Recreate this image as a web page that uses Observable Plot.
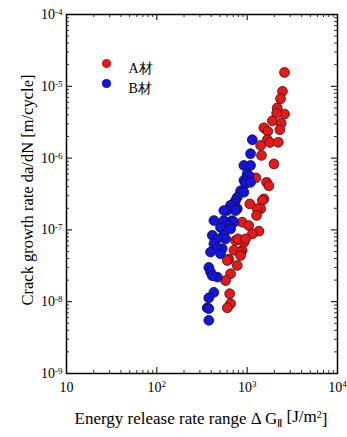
<!DOCTYPE html>
<html><head><meta charset="utf-8">
<script src="https://cdn.jsdelivr.net/npm/d3@7"></script>
<script src="https://cdn.jsdelivr.net/npm/@observablehq/plot@0.6"></script>
<style>body{margin:0;background:#fff;} svg{display:block;}</style>
</head><body><div id="chart"></div>
<script>
const seriesNames = ["A材", "B材"];
const seriesColors = ["#e81818", "#1414dc"];

const aDeltaG = [2590, 2460, 2340, 2150, 2590, 2120, 1900, 2380, 1530, 1690, 2300, 1670, 1780, 2210, 1410, 1440, 1980, 1250, 1640, 1740, 1530, 1470, 1410, 1290, 1270, 1070, 880, 1040, 1350, 1140, 920, 744, 880, 713, 845, 627, 602, 777, 655, 577, 640, 655, 602, 790, 960, 845];
const aRate = [1.56e-5, 8.5e-6, 6.7e-6, 5.0e-6, 4.1e-6, 4.2e-6, 3.3e-6, 3.06e-6, 2.64e-6, 2.37e-6, 2.48e-6, 1.8e-6, 1.65e-6, 1.66e-6, 1.5e-6, 1.09e-6, 8.3e-7, 5.3e-7, 4.6e-7, 4.1e-7, 2.7e-7, 2.57e-7, 1.97e-7, 1.97e-7, 1.59e-7, 2.3e-7, 1.28e-7, 1.15e-7, 9.6e-8, 8.8e-8, 6.7e-8, 7.1e-8, 5.2e-8, 5.2e-8, 4.9e-8, 3.9e-8, 3.75e-8, 3.2e-8, 2.45e-8, 1.97e-8, 1.29e-8, 9.4e-9, 8.2e-9, 7.5e-8, 7.5e-8, 4.4e-8];

const bDeltaG = [1140, 1090, 920, 1090, 1000, 1044, 920, 960, 1090, 845, 920, 777, 744, 713, 655, 777, 602, 744, 552, 428, 552, 684, 713, 627, 507, 655, 411, 552, 577, 467, 428, 530, 467, 393, 507, 376, 393, 467, 411, 428, 376, 361, 376, 376];
const bRate = [1.8e-6, 1.15e-6, 7.9e-7, 7.9e-7, 6.0e-7, 5.7e-7, 4.9e-7, 4.4e-7, 4.6e-7, 3.5e-7, 3.35e-7, 2.85e-7, 2.57e-7, 2.3e-7, 2.2e-7, 1.97e-7, 1.86e-7, 1.86e-7, 1.86e-7, 1.35e-7, 1.35e-7, 1.35e-7, 1.28e-7, 1.15e-7, 1.08e-7, 1.03e-7, 8.4e-8, 8.4e-8, 7.5e-8, 7.5e-8, 6.4e-8, 5.5e-8, 5.5e-8, 4.9e-8, 4.65e-8, 3.0e-8, 2.6e-8, 2.2e-8, 2.3e-8, 1.35e-8, 1.13e-8, 8.2e-9, 8.0e-9, 5.5e-9];

const xTickValues = [10, 100, 1000, 10000];
const xTickLabels = ["10", "10^2", "10^3", "10^4"];
const yTickValues = [1e-9, 1e-8, 1e-7, 1e-6, 1e-5, 1e-4];
const yTickLabels = ["10^-9", "10^-8", "10^-7", "10^-6", "10^-5", "10^-4"];

const xMinor = d3.range(1, 4).flatMap(e => d3.range(2, 10).map(m => m * 10 ** e));
const yMinor = d3.range(-9, -4).flatMap(e => d3.range(2, 10).map(m => m * 10 ** e));

const aData = aDeltaG.map((g, i) => ({g, r: aRate[i]}));
const bData = bDeltaG.map((g, i) => ({g, r: bRate[i]}));

const W = 347, H = 437;
const mL = 66, mR = 10, mT = 14, mB = 64;
const fw = W - mL - mR, fh = H - mT - mB;
const font = "'Liberation Serif', 'Times New Roman', serif";

const chart = Plot.plot({
  width: W, height: H,
  marginLeft: mL, marginRight: mR, marginTop: mT, marginBottom: mB,
  style: {fontFamily: font, background: "#fff", color: "#000"},
  x: {type: "log", domain: [10, 1e4], axis: null},
  y: {type: "log", domain: [1e-9, 1e-4], axis: null},
  marks: [
    Plot.dot(aData, {x: "g", y: "r", r: 4.9, fill: seriesColors[0], stroke: "#3a0c0c", strokeWidth: 0.8}),
    Plot.dot(bData, {x: "g", y: "r", r: 4.9, fill: seriesColors[1], stroke: "#0c0c3a", strokeWidth: 0.8}),
    Plot.tickX(xTickValues, {x: d => d, insetTop: fh - 6, stroke: "#000", strokeWidth: 1}),
    Plot.tickX(xTickValues, {x: d => d, insetBottom: fh - 6, stroke: "#000", strokeWidth: 1}),
    Plot.tickY(yTickValues, {y: d => d, insetRight: fw - 6, stroke: "#000", strokeWidth: 1}),
    Plot.tickY(yTickValues, {y: d => d, insetLeft: fw - 6, stroke: "#000", strokeWidth: 1}),
    Plot.tickX(xMinor, {x: d => d, insetTop: fh - 3, stroke: "#000", strokeWidth: 0.8}),
    Plot.tickX(xMinor, {x: d => d, insetBottom: fh - 3, stroke: "#000", strokeWidth: 0.8}),
    Plot.tickY(yMinor, {y: d => d, insetRight: fw - 3, stroke: "#000", strokeWidth: 0.8}),
    Plot.tickY(yMinor, {y: d => d, insetLeft: fw - 3, stroke: "#000", strokeWidth: 0.8}),
    Plot.frame({stroke: "#000", strokeWidth: 1.5}),
    Plot.text(xTickValues, {x: d => d, text: (d, i) => xTickLabels[i], frameAnchor: "bottom", dy: 18, fontSize: 14, fill: "#000"}),
    Plot.text(yTickValues, {y: d => d, text: (d, i) => yTickLabels[i], frameAnchor: "left", dx: -4, textAnchor: "end", fontSize: 14, fill: "#000"}),
    ...seriesNames.map((name, i) => Plot.dot([name], {frameAnchor: "top-left", dx: 40, dy: 49 + 20 * i, r: 4.6, fill: seriesColors[i]})),
    ...seriesNames.map((name, i) => Plot.text([name], {text: d => d, frameAnchor: "top-left", dx: 62, dy: 49 + 20 * i, textAnchor: "start", fontSize: 14, fill: "#000"}))
  ]
});

d3.select(chart).selectAll("text").each(function() {
  const t = this.textContent;
  const m = /^10\^(.+)$/.exec(t);
  if (!m) return;
  const sel = d3.select(this);
  sel.text(null);
  sel.append("tspan").text("10");
  sel.append("tspan").attr("dy", "-0.45em").attr("font-size", "9px").text(m[1]);
});

const svg = d3.select(chart);
const xt = svg.append("text")
  .attr("x", 201).attr("y", 424)
  .attr("text-anchor", "middle")
  .attr("font-family", font).attr("font-size", 17).attr("fill", "#000");
xt.append("tspan").text("Energy release rate range Δ G");
xt.append("tspan").attr("dy", "0.3em").attr("font-size", "11px").text("Ⅱ");
xt.append("tspan").attr("dy", "-0.3em").text(" [J/m");
xt.append("tspan").attr("dy", "-0.45em").attr("font-size", "10px").text("2");
xt.append("tspan").attr("dy", "0.45em").text("]");
svg.append("text")
  .attr("transform", "translate(33,190) rotate(-90)")
  .attr("text-anchor", "middle")
  .attr("font-family", font).attr("font-size", 16.5).attr("fill", "#000")
  .text("Crack growth rate da/dN [m/cycle]");

document.getElementById("chart").appendChild(chart);
</script>
</body></html>
